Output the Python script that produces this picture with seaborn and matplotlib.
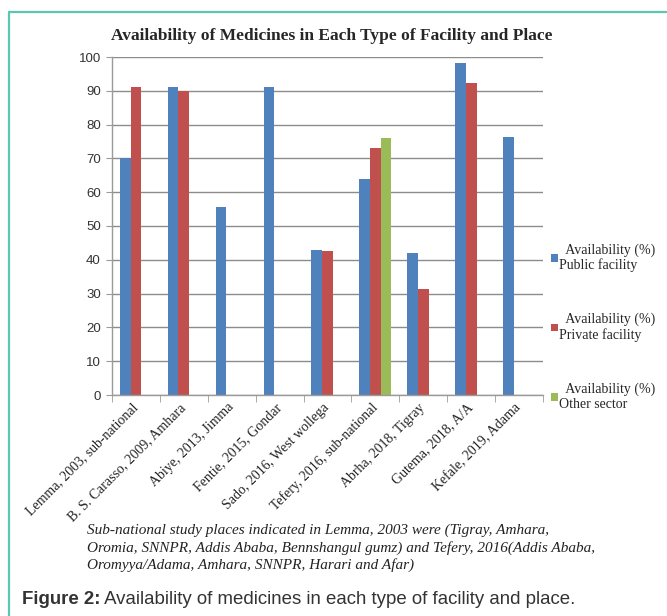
import numpy as np
import pandas as pd
import matplotlib
matplotlib.use("Agg")
import matplotlib.pyplot as plt
from matplotlib.lines import Line2D
import seaborn as sns

places = ["Lemma, 2003, sub-national", "B. S. Carasso, 2009, Amhara", "Abiye, 2013, Jimma",
          "Fentie, 2015, Gondar", "Sado, 2016, West wollega", "Tefery, 2016, sub-national",
          "Abrha, 2018, Tigray", "Gutema, 2018, A/A", "Kefale, 2019, Adama"]
public = [70, 91, 55.7, 91, 43, 63.8, 42, 98.3, 76.2]
private = [91, 90, np.nan, np.nan, 42.7, 73.1, 31.5, 92.3, np.nan]
other = [np.nan, np.nan, np.nan, np.nan, np.nan, 75.9, np.nan, np.nan, np.nan]
series = ["Availability (%)\nPublic facility", "Availability (%)\nPrivate facility",
          "Availability (%)\nOther sector"]
colors = ["#4F81BD", "#C0504D", "#9BBB59"]

rows = []
for s, vals in zip(series, [public, private, other]):
    for p, v in zip(places, vals):
        rows.append({"place": p, "series": s, "value": v})
df = pd.DataFrame(rows)

sns.set_style("white")
plt.rcParams["font.family"] = ["Liberation Serif", "DejaVu Serif"]

fig = plt.figure(figsize=(6.67, 6.16), dpi=100)
ax = fig.add_axes([112 / 667, 1 - 395 / 616, 431 / 667, 338 / 616])

sns.barplot(data=df, x="place", y="value", hue="series", order=places, hue_order=series,
            palette=colors, width=0.67, saturation=1, linewidth=0, ax=ax)

ax.set_ylim(0, 100)
ax.set_xlim(-0.5, 8.5)
ax.set_yticks(range(0, 101, 10))
ax.yaxis.grid(True, color="#8c8c8c", linewidth=1)
ax.set_axisbelow(True)
for side in ["top", "right"]:
    ax.spines[side].set_visible(False)
for side in ["left", "bottom"]:
    ax.spines[side].set_color("#9a9a9a")
    ax.spines[side].set_linewidth(1)
ax.set_xlabel("")
ax.set_ylabel("")

ax.set_xticks(range(len(places)))
ax.set_xticklabels(places, rotation=45, ha="right", va="center", rotation_mode="anchor",
                   fontsize=10, color="#222222")
ax.set_xticks(np.arange(-0.5, len(places)), minor=True)
ax.tick_params(axis="x", which="major", length=0, pad=7.5)
ax.tick_params(axis="x", which="minor", length=5, color="#9a9a9a", direction="out", bottom=True)
ax.tick_params(axis="y", length=4, color="#9a9a9a", direction="out", left=True, pad=4,
               labelsize=9.5, labelcolor="#333333")
for t in ax.get_yticklabels():
    t.set_fontfamily("Liberation Sans")

ax.set_title("Availability of Medicines in Each Type of Facility and Place",
             fontsize=12.5, fontweight="bold", pad=12, x=0.51)

handles, labels = ax.get_legend_handles_labels()
ax.legend(handles, ["  " + l for l in labels], loc="center left",
          bbox_to_anchor=(545 / 667, 1 - 327 / 616), bbox_transform=fig.transFigure,
          frameon=False, fontsize=10, handlelength=0.5, handleheight=0.5,
          handletextpad=0.1, labelspacing=2.9, borderaxespad=0)

fig.text(87 / 667, 1 - 524 / 616,
         "Sub-national study places indicated in Lemma, 2003 were (Tigray, Amhara,\n"
         "Oromia, SNNPR, Addis Ababa, Bennshangul gumz) and Tefery, 2016(Addis Ababa,\n"
         "Oromyya/Adama, Amhara, SNNPR, Harari and Afar)",
         fontsize=11, style="italic", va="top", ha="left", linespacing=1.32, color="#222222")

cap1 = fig.text(22 / 667, 1 - 599 / 616, "Figure 2:", fontsize=13.4, fontweight="bold",
                family="Liberation Sans", va="center", ha="left", color="#333333")
fig.canvas.draw()
bb = cap1.get_window_extent()
fig.text(bb.x1 / fig.bbox.width, 1 - 599 / 616, " Availability of medicines in each type of facility and place.",
         fontsize=13.4, family="Liberation Sans", va="center", ha="left", color="#333333")

teal = "#5cc6b2"
fig.add_artist(Line2D([9 / 667, 9 / 667], [0, 1 - 12 / 616], transform=fig.transFigure,
                      color=teal, linewidth=1.6))
fig.add_artist(Line2D([9 / 667, 1], [1 - 12 / 616, 1 - 12 / 616], transform=fig.transFigure,
                      color=teal, linewidth=1.6))

fig.savefig("out.png", dpi=100)
